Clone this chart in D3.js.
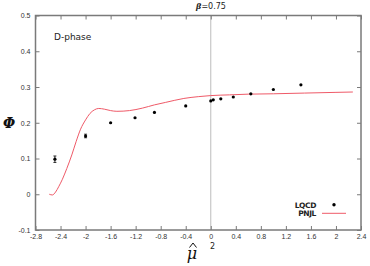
<!DOCTYPE html>
<html>
<head>
<meta charset="utf-8">
<script src="https://cdn.jsdelivr.net/npm/d3@7"></script>
<style>
  body { margin: 0; background: #fff; }
  svg { display: block; font-family: "DejaVu Sans", sans-serif; }
</style>
</head>
<body>
<div id="chart"></div>
<script>
// LQCD points (mu-hat squared, Phi, error)
const lqcdMu2 = [-2.49, -2.0, -1.6, -1.21, -0.9, -0.4, 0, 0.04, 0.16, 0.36, 0.64, 1.0, 1.44];
const lqcdPhi = [0.098, 0.163, 0.200, 0.214, 0.229, 0.247, 0.261, 0.264, 0.267, 0.272, 0.281, 0.293, 0.306];
const lqcdErr = [0.009, 0.005, 0.003, 0.002, 0.002, 0.002, 0.002, 0.002, 0.002, 0.002, 0.002, 0.002, 0.002];

// PNJL curve
const pnjlMu2 = [-2.58, -2.53, -2.48, -2.43, -2.37, -2.30, -2.22, -2.15, -2.08, -2.0, -1.93, -1.86, -1.79, -1.70, -1.6, -1.5, -1.3, -1.09, -0.9, -0.72, -0.43, -0.2, 0, 0.3, 0.6, 1.0, 1.5, 2.0, 2.27];
const pnjlPhi = [0.000, -0.002, 0.006, 0.021, 0.042, 0.072, 0.110, 0.148, 0.182, 0.208, 0.226, 0.236, 0.240, 0.238, 0.234, 0.232, 0.234, 0.241, 0.250, 0.257, 0.268, 0.273, 0.276, 0.278, 0.280, 0.281, 0.283, 0.285, 0.286];

const xTicks = [-2.8, -2.4, -2, -1.6, -1.2, -0.8, -0.4, 0, 0.4, 0.8, 1.2, 1.6, 2, 2.4];
const yTicks = [-0.1, 0, 0.1, 0.2, 0.3, 0.4, 0.5];

const width = 370;
const height = 266;
const margin = { top: 15.5, right: 9, bottom: 36, left: 35.5 };

const svg = d3.select('#chart').append('svg')
  .attr('width', width)
  .attr('height', height);

const x = d3.scaleLinear()
  .domain([-2.8, 2.4])
  .range([margin.left, width - margin.right]);

const y = d3.scaleLinear()
  .domain([-0.1, 0.5])
  .range([height - margin.bottom, margin.top]);

const axisColor = '#7a7a7a';
const fmt = d => String(Math.round(d * 10) / 10);

// zero line
svg.append('line')
  .attr('x1', x(0)).attr('x2', x(0))
  .attr('y1', y(0.5)).attr('y2', y(-0.1))
  .attr('stroke', '#bdbdbd')
  .attr('stroke-width', 1);

// axes
const styleAxis = g => {
  g.select('.domain').remove();
  g.selectAll('.tick line').attr('stroke', axisColor).attr('stroke-width', 1);
  g.selectAll('.tick text').attr('fill', '#333').attr('font-size', 7);
};

svg.append('g')
  .attr('transform', `translate(0,${y(-0.1)})`)
  .call(d3.axisBottom(x).tickValues(xTicks).tickFormat(fmt).tickSize(-4).tickPadding(4))
  .call(styleAxis);

svg.append('g')
  .attr('transform', `translate(0,${y(0.5)})`)
  .call(d3.axisTop(x).tickValues(xTicks).tickFormat('').tickSize(-4))
  .call(styleAxis);

svg.append('g')
  .attr('transform', `translate(${x(-2.8)},0)`)
  .call(d3.axisLeft(y).tickValues(yTicks).tickFormat(fmt).tickSize(-4).tickPadding(5))
  .call(styleAxis);

svg.append('g')
  .attr('transform', `translate(${x(2.4)},0)`)
  .call(d3.axisRight(y).tickValues(yTicks).tickFormat('').tickSize(-4))
  .call(styleAxis);

// frame
svg.append('rect')
  .attr('x', x(-2.8)).attr('y', y(0.5))
  .attr('width', x(2.4) - x(-2.8))
  .attr('height', y(-0.1) - y(0.5))
  .attr('fill', 'none')
  .attr('stroke', axisColor)
  .attr('stroke-width', 1.5);

// PNJL curve
const pnjl = pnjlMu2.map((m, i) => ({ m, p: pnjlPhi[i] }));
svg.append('path')
  .datum(pnjl)
  .attr('fill', 'none')
  .attr('stroke', '#ef5a68')
  .attr('stroke-width', 1)
  .attr('d', d3.line().curve(d3.curveMonotoneX).x(d => x(d.m)).y(d => y(d.p)));

// LQCD points
const lqcd = lqcdMu2.map((m, i) => ({ m, p: lqcdPhi[i], e: lqcdErr[i] }));
const pts = svg.append('g');
pts.selectAll('line.err')
  .data(lqcd.filter(d => d.e > 0.003))
  .join('line')
  .attr('x1', d => x(d.m)).attr('x2', d => x(d.m))
  .attr('y1', d => y(d.p - d.e)).attr('y2', d => y(d.p + d.e))
  .attr('stroke', '#000').attr('stroke-width', 0.8);
pts.selectAll('line.cap')
  .data(lqcd.filter(d => d.e > 0.003).flatMap(d => [d.p - d.e, d.p + d.e].map(v => ({ m: d.m, v }))))
  .join('line')
  .attr('x1', d => x(d.m) - 1.5).attr('x2', d => x(d.m) + 1.5)
  .attr('y1', d => y(d.v)).attr('y2', d => y(d.v))
  .attr('stroke', '#000').attr('stroke-width', 0.8);
pts.selectAll('circle')
  .data(lqcd)
  .join('circle')
  .attr('cx', d => x(d.m))
  .attr('cy', d => y(d.p))
  .attr('r', 1.6)
  .attr('fill', '#000');

// labels
svg.append('text')
  .attr('x', 54).attr('y', 40)
  .attr('font-size', 9).attr('fill', '#222')
  .text('D-phase');

const title = svg.append('text')
  .attr('x', 211).attr('y', 9)
  .attr('text-anchor', 'middle')
  .attr('font-size', 8).attr('fill', '#222');
title.append('tspan').attr('font-style', 'italic').attr('font-weight', 'bold').attr('font-family', 'DejaVu Serif').text('β');
title.append('tspan').text('=0.75');

svg.append('text')
  .attr('x', 9).attr('y', 128)
  .attr('text-anchor', 'middle')
  .attr('font-size', 14).attr('font-style', 'italic').attr('font-weight', 'bold')
  .attr('font-family', 'DejaVu Serif')
  .attr('fill', '#111')
  .text('Φ');

// x label: mu hat squared
svg.append('text')
  .attr('x', 192).attr('y', 259)
  .attr('text-anchor', 'middle')
  .attr('font-size', 16).attr('font-style', 'italic').attr('font-family', 'DejaVu Serif')
  .attr('fill', '#111')
  .text('μ');
svg.append('path')
  .attr('d', 'M189.5,247.5 L193,243 L196.5,247.5')
  .attr('fill', 'none')
  .attr('stroke', '#111')
  .attr('stroke-width', 1);
svg.append('text')
  .attr('x', 210).attr('y', 249)
  .attr('font-size', 8).attr('fill', '#222')
  .text('2');

// legend
const legend = svg.append('g').attr('font-size', 7.5).attr('font-weight', 'bold').attr('fill', '#222');
legend.append('text').attr('x', 316).attr('y', 207.5).attr('text-anchor', 'end').attr('letter-spacing', -0.4).text('LQCD');
legend.append('text').attr('x', 316).attr('y', 216).attr('text-anchor', 'end').attr('letter-spacing', -0.4).text('PNJL');
legend.append('circle').attr('cx', 334).attr('cy', 204.8).attr('r', 1.7).attr('fill', '#000');
legend.append('line')
  .attr('x1', 322).attr('x2', 346).attr('y1', 213.3).attr('y2', 213.3)
  .attr('stroke', '#ef5a68').attr('stroke-width', 1);
</script>
</body>
</html>
